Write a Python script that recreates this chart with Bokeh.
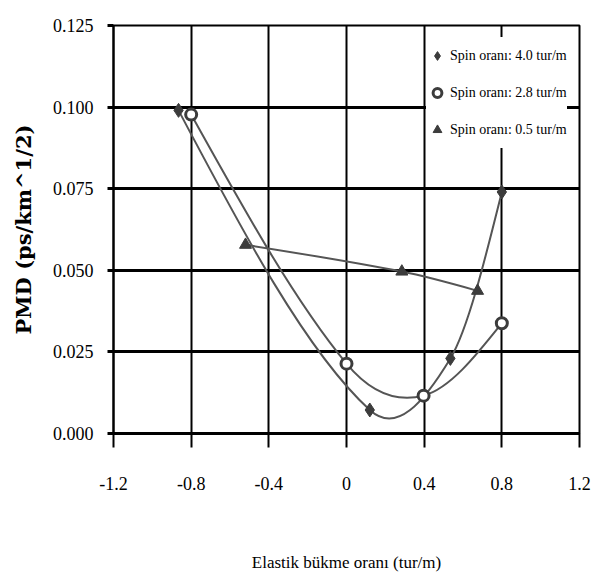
from bokeh.plotting import figure
from bokeh.models import Range1d, FixedTicker, CustomJSTickFormatter, Legend, LegendItem
from bokeh.embed import file_html
from bokeh.resources import INLINE

# ---- data ----
s1_name = "Spin oranı: 4.0 tur/m"
s1_x = [-0.865, 0.12, 0.535, 0.80]
s1_y = [0.099, 0.0072, 0.023, 0.0740]

s2_name = "Spin oranı: 2.8 tur/m"
s2_x = [-0.80, 0.0, 0.397, 0.80]
s2_y = [0.0977, 0.0214, 0.0116, 0.0338]

s3_name = "Spin oranı: 0.5 tur/m"
s3_x = [-0.52, 0.285, 0.675]
s3_y = [0.0578, 0.0496, 0.0437]

x_ticks = [-1.2, -0.8, -0.4, 0.0, 0.4, 0.8, 1.2]
y_ticks = [0.0, 0.025, 0.05, 0.075, 0.1, 0.125]

x_title = "Elastik bükme oranı (tur/m)"
y_title = "PMD (ps/km^1/2)"

FONT = "Liberation Serif"
LINE_COLOR = "#555555"
MARK_COLOR = "#3c3c3c"


def smooth_segments(xs, ys):
    """Cubic Bezier control points for a smoothed line through the data points."""
    n = len(xs)
    d = [(ys[i + 1] - ys[i]) / (xs[i + 1] - xs[i]) for i in range(n - 1)]
    m = [0.0] * n
    for i in range(1, n - 1):
        m[i] = (ys[i + 1] - ys[i - 1]) / (xs[i + 1] - xs[i - 1])
    if n > 2:
        m[0] = 1.5 * d[0] - 0.5 * m[1]
        m[-1] = 1.5 * d[-1] - 0.5 * m[-2]
    else:
        m[0] = m[-1] = d[0]
    seg = dict(x0=[], y0=[], x1=[], y1=[], cx0=[], cy0=[], cx1=[], cy1=[])
    for i in range(n - 1):
        h = xs[i + 1] - xs[i]
        seg["x0"].append(xs[i]); seg["y0"].append(ys[i])
        seg["x1"].append(xs[i + 1]); seg["y1"].append(ys[i + 1])
        seg["cx0"].append(xs[i] + h / 3); seg["cy0"].append(ys[i] + m[i] * h / 3)
        seg["cx1"].append(xs[i + 1] - h / 3); seg["cy1"].append(ys[i + 1] - m[i + 1] * h / 3)
    return seg


p = figure(width=608, height=580, output_backend="svg", toolbar_location=None,
           x_range=Range1d(-1.2, 1.2), y_range=Range1d(0, 0.125),
           min_border_left=113, min_border_right=29, min_border_top=25, min_border_bottom=147)
p.background_fill_color = "white"
p.border_fill_color = "white"
p.outline_line_color = "black"
p.outline_line_width = 2

# grid
p.xgrid.ticker = FixedTicker(ticks=x_ticks)
p.ygrid.ticker = FixedTicker(ticks=y_ticks)
p.xgrid.grid_line_color = "black"
p.xgrid.grid_line_width = 2
p.ygrid.grid_line_color = "black"
p.ygrid.grid_line_width = 3

# axes
p.xaxis.ticker = FixedTicker(ticks=x_ticks)
p.yaxis.ticker = FixedTicker(ticks=y_ticks)
p.xaxis.formatter = CustomJSTickFormatter(code="return Math.abs(tick) < 1e-9 ? '0' : tick.toFixed(1);")
p.yaxis.formatter = CustomJSTickFormatter(code="return tick.toFixed(3);")
for ax in (p.xaxis, p.yaxis):
    ax.minor_tick_line_color = None
    ax.major_tick_in = 0
    ax.axis_line_color = "black"
    ax.major_tick_line_color = "black"
    ax.major_label_text_font = FONT
    ax.major_label_text_font_size = "18px"
    ax.major_label_text_color = "black"
    ax.axis_label_text_color = "black"
    ax.axis_label_text_font = FONT

p.xaxis.axis_line_width = 3
p.xaxis.major_tick_line_width = 2
p.xaxis.major_tick_out = 14
p.xaxis.major_label_standoff = 29
p.xaxis.axis_label = x_title
p.xaxis.axis_label_text_font_size = "17px"
p.xaxis.axis_label_text_font_style = "normal"
p.xaxis.axis_label_standoff = 60

p.yaxis.axis_line_width = 2
p.yaxis.major_tick_line_width = 3
p.yaxis.major_tick_out = 6
p.yaxis.major_label_standoff = 14
p.yaxis.axis_label = y_title
p.yaxis.axis_label_text_font = "DejaVu Serif"
p.yaxis.axis_label_text_font_size = "21px"
p.yaxis.axis_label_text_font_style = "bold"
p.yaxis.axis_label_standoff = 14

# smoothed lines
for xs, ys in ((s1_x, s1_y), (s2_x, s2_y), (s3_x, s3_y)):
    seg = smooth_segments(xs, ys)
    p.bezier(x0=seg["x0"], y0=seg["y0"], x1=seg["x1"], y1=seg["y1"],
             cx0=seg["cx0"], cy0=seg["cy0"], cx1=seg["cx1"], cy1=seg["cy1"],
             line_color=LINE_COLOR, line_width=2)

# markers
r1 = p.scatter(s1_x, s1_y, marker="diamond", size=14, fill_color=MARK_COLOR, line_color=MARK_COLOR)
r2 = p.scatter(s2_x, s2_y, marker="circle", size=11, fill_color="white", line_color=MARK_COLOR, line_width=3)
r3 = p.scatter(s3_x, s3_y, marker="triangle", size=12, fill_color=MARK_COLOR, line_color=MARK_COLOR)

legend = Legend(items=[LegendItem(label=s1_name, renderers=[r1]),
                       LegendItem(label=s2_name, renderers=[r2]),
                       LegendItem(label=s3_name, renderers=[r3])],
                location=(313, 285), padding=0, margin=0, spacing=0,
                glyph_width=22, glyph_height=37, label_height=37, label_standoff=2,
                label_text_font=FONT, label_text_font_size="14px", label_text_color="black",
                border_line_color=None, background_fill_color="white", background_fill_alpha=1.0)
p.add_layout(legend)

open("out.html", "w").write(file_html(p, INLINE))
